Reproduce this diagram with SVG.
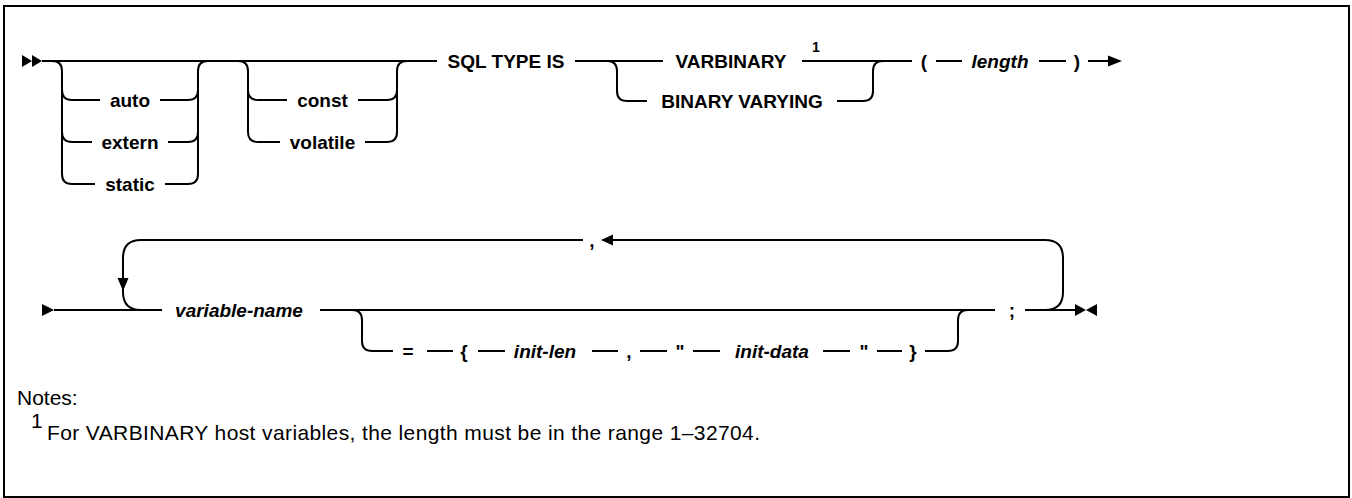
<svg xmlns="http://www.w3.org/2000/svg" width="1352" height="498" viewBox="0 0 1352 498">
<style>
.ln{fill:none;stroke:#000;stroke-width:2}
.ah{fill:#000;stroke:none}
.t{font-family:"Liberation Sans",Arial,sans-serif;font-size:19px;font-weight:bold;text-anchor:middle;fill:#000}
.i{font-style:italic}
.sup{font-size:14px}
.n{font-family:"Liberation Sans",Arial,sans-serif;font-size:21px;fill:#000}
</style>
<rect x="4" y="6" width="1345" height="491" fill="#fff" stroke="#000" stroke-width="2"/>
<g id="connectors">
  <!-- row 1 -->
  <path class="ah" d="M22 55 L32 61 L22 67 Z M32 55 L42 61 L32 67 Z"/>
  <path class="ln" d="M42 61 H437"/>
  <path class="ln" d="M52 61 Q62 61 62 71 V174 Q62 184 72 184 H95"/>
  <path class="ln" d="M62 90 Q62 100 72 100 H100"/>
  <path class="ln" d="M62 132 Q62 142 72 142 H92"/>
  <path class="ln" d="M160 100 H188 Q198 100 198 90"/>
  <path class="ln" d="M168 142 H188 Q198 142 198 132"/>
  <path class="ln" d="M165 184 H188 Q198 184 198 174 V71 Q198 61 208 61"/>
  <path class="ln" d="M238 61 Q248 61 248 71 V132 Q248 142 258 142 H280"/>
  <path class="ln" d="M248 90 Q248 100 258 100 H287"/>
  <path class="ln" d="M358 100 H387 Q397 100 397 90"/>
  <path class="ln" d="M365 142 H387 Q397 142 397 132 V71 Q397 61 407 61"/>
  <path class="ln" d="M575 61 H663"/>
  <path class="ln" d="M607 61 Q617 61 617 71 V91 Q617 101 627 101 H647"/>
  <path class="ln" d="M802 61 H912"/>
  <path class="ln" d="M837 101 H863 Q873 101 873 91 V71 Q873 61 883 61"/>
  <path class="ln" d="M936 61 H962"/>
  <path class="ln" d="M1039 61 H1066"/>
  <path class="ln" d="M1088 61 H1110"/>
  <path class="ah" d="M1108 55.5 L1122 61 L1108 66.5 Z"/>
  <!-- row 2 -->
  <path class="ah" d="M42 304 L54 310 L42 316 Z"/>
  <path class="ln" d="M54 310 H162"/>
  <path class="ln" d="M320 310 H995"/>
  <path class="ln" d="M1025 310 H1075"/>
  <path class="ln" d="M1045 310 Q1063 310 1063 292 V258 Q1063 240 1045 240 H613"/>
  <path class="ah" d="M613 234.5 L601 240 L613 245.5 Z"/>
  <path class="ln" d="M583 240 H141 Q123 240 123 258 V292 Q123 310 141 310"/>
  <path class="ah" d="M117.5 278 L128.5 278 L123 291 Z"/>
  <path class="ln" d="M352 310 Q362 310 362 320 V341 Q362 351 372 351 H393"/>
  <path class="ln" d="M427 351 H453"/>
  <path class="ln" d="M478 351 H505"/>
  <path class="ln" d="M592 351 H618"/>
  <path class="ln" d="M640 351 H667"/>
  <path class="ln" d="M693 351 H720"/>
  <path class="ln" d="M823 351 H850"/>
  <path class="ln" d="M877 351 H902"/>
  <path class="ln" d="M925 351 H948 Q958 351 958 341 V320 Q958 310 968 310"/>
  <path class="ah" d="M1075 304 L1086 310 L1075 316 Z M1097 304 L1086 310 L1097 316 Z"/>
</g>
<g id="n-auto"><text class="t" x="130" y="107">auto</text></g>
<g id="n-extern"><text class="t" x="130" y="149">extern</text></g>
<g id="n-static"><text class="t" x="130" y="191">static</text></g>
<g id="n-const"><text class="t" x="322.5" y="107">const</text></g>
<g id="n-volatile"><text class="t" x="322.5" y="149">volatile</text></g>
<g id="n-sqltype"><text class="t" x="506" y="68">SQL TYPE IS</text></g>
<g id="n-varbinary"><text class="t" x="731" y="68">VARBINARY</text><text class="t sup" x="816" y="52">1</text></g>
<g id="n-binvarying"><text class="t" x="742" y="108">BINARY VARYING</text></g>
<g id="n-lparen"><text class="t" x="924" y="68">(</text></g>
<g id="n-length"><text class="t i" x="1000" y="68">length</text></g>
<g id="n-rparen"><text class="t" x="1077" y="68">)</text></g>
<g id="n-varname"><text class="t i" x="239" y="317">variable-name</text></g>
<g id="n-comma-loop"><text class="t" x="592" y="247">,</text></g>
<g id="n-eq"><text class="t" x="408" y="358">=</text></g>
<g id="n-lbrace"><text class="t" x="464" y="358">{</text></g>
<g id="n-initlen"><text class="t i" x="545" y="358">init-len</text></g>
<g id="n-comma"><text class="t" x="629" y="358">,</text></g>
<g id="n-q1"><text class="t" x="680" y="358">"</text></g>
<g id="n-initdata"><text class="t i" x="772" y="358">init-data</text></g>
<g id="n-q2"><text class="t" x="864" y="358">"</text></g>
<g id="n-rbrace"><text class="t" x="913" y="358">}</text></g>
<g id="n-semi"><text class="t" x="1012" y="317">;</text></g>
<g id="notes">
  <text class="n" x="17" y="405">Notes:</text>
  <text class="n" x="31" y="428" font-size="14">1</text>
  <text class="n" x="47" y="440" textLength="713">For VARBINARY host variables, the length must be in the range 1–32704.</text>
</g>
</svg>
